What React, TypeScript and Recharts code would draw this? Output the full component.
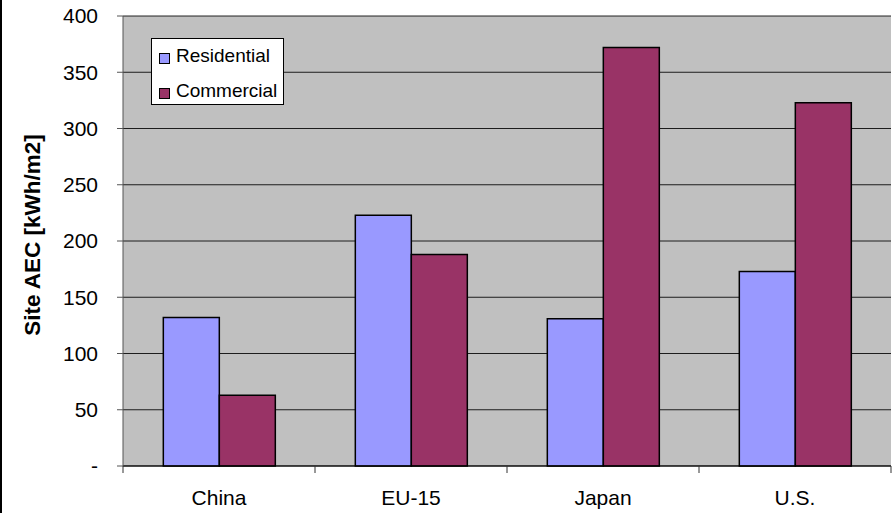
import React from "react";
import { BarChart, Bar, XAxis, YAxis, CartesianGrid } from "recharts";

// Site annual energy consumption by region and building type
const regions = ["China", "EU-15", "Japan", "U.S."];
const residential = [132, 223, 131, 173];
const commercial = [63, 188, 372, 323];
const yTicks = [0, 50, 100, 150, 200, 250, 300, 350, 400];

const data = regions.map((region, i) => ({
  region,
  Residential: residential[i],
  Commercial: commercial[i],
}));

const FONT = "'Liberation Sans', Arial, sans-serif";
const RES_COLOR = "#9999FF";
const COM_COLOR = "#993366";
const X_TICK_SIZE = 6;
const X_TICK_MARGIN = 18;

const legendItems = [
  { label: "Residential", color: RES_COLOR },
  { label: "Commercial", color: COM_COLOR },
];

// Category label plus tick marks on the category boundaries
function CategoryTick(props: any) {
  const { x, y, payload, index, visibleTicksCount } = props;
  const half = payload && payload.offset ? payload.offset : 0;
  const axisY = y - X_TICK_SIZE - X_TICK_MARGIN;
  const isLast = index === (visibleTicksCount ?? regions.length) - 1;
  return (
    <g>
      {half > 0 && (
        <line x1={x - half} x2={x - half} y1={axisY} y2={axisY + 7} stroke="#333" />
      )}
      {half > 0 && isLast && (
        <line x1={x + half} x2={x + half} y1={axisY} y2={axisY + 7} stroke="#333" />
      )}
      <text
        x={x}
        y={y}
        dy="0.71em"
        textAnchor="middle"
        fill="#000"
        fontSize={21}
        fontFamily={FONT}
      >
        {payload.value}
      </text>
    </g>
  );
}

function LegendBox() {
  return (
    <div
      style={{
        position: "absolute",
        left: 151,
        top: 38,
        width: 131,
        height: 65,
        background: "#fff",
        border: "1px solid #000",
        fontFamily: FONT,
        fontSize: 19,
        color: "#000",
      }}
    >
      {legendItems.map((it, i) => (
        <div
          key={it.label}
          style={{
            position: "absolute",
            left: 7,
            top: 6 + i * 35,
            display: "flex",
            alignItems: "center",
            height: 22,
            lineHeight: "22px",
            whiteSpace: "nowrap",
          }}
        >
          <span
            style={{
              display: "inline-block",
              width: 9,
              height: 9,
              background: it.color,
              border: "1px solid #000",
              marginRight: 6,
              marginTop: 4,
            }}
          />
          <span>{it.label}</span>
        </div>
      ))}
    </div>
  );
}

export default function App() {
  return (
    <div
      style={{
        position: "absolute",
        left: 0,
        top: 0,
        width: 896,
        height: 513,
        background: "#fff",
        overflow: "hidden",
      }}
    >
      <div
        style={{
          position: "absolute",
          left: 0,
          top: 0,
          width: 2,
          height: 513,
          background: "#000",
        }}
      />
      <BarChart
        width={896}
        height={513}
        data={data}
        margin={{ top: 16, right: 5, bottom: 0, left: 0 }}
        barCategoryGap="21%"
        barGap={0}
      >
        <CartesianGrid
          vertical={false}
          fill="#C0C0C0"
          stroke="#000"
          strokeOpacity={0.85}
        />
        <XAxis
          dataKey="region"
          height={47}
          axisLine={{ stroke: "#000" }}
          tickLine={false}
          tickSize={X_TICK_SIZE}
          tick={<CategoryTick />}
          tickMargin={X_TICK_MARGIN}
        />
        <YAxis
          width={123}
          domain={[0, 400]}
          ticks={yTicks}
          interval={0}
          tickFormatter={(v: number) => (v === 0 ? "-" : String(v))}
          axisLine={{ stroke: "#555" }}
          tickLine={{ stroke: "#555" }}
          tickSize={6}
          tickMargin={19}
          tick={{ fill: "#000", fontSize: 21, fontFamily: FONT }}
          label={{
            value: "Site AEC [kWh/m2]",
            angle: -90,
            position: "insideLeft",
            offset: 0,
            dx: 32,
            dy: -6,
            style: {
              fontFamily: FONT,
              fontWeight: "bold",
              fontSize: 22.5,
              fill: "#000",
              textAnchor: "middle",
            },
          }}
        />
        <YAxis
          yAxisId="edge"
          orientation="right"
          width={0}
          tick={false}
          tickLine={false}
          axisLine={{ stroke: "#808080", strokeWidth: 2 }}
        />
        <Bar
          dataKey="Residential"
          fill={RES_COLOR}
          stroke="#000"
          strokeWidth={1.5}
          isAnimationActive={false}
        />
        <Bar
          dataKey="Commercial"
          fill={COM_COLOR}
          stroke="#000"
          strokeWidth={1.5}
          isAnimationActive={false}
        />
      </BarChart>
      <LegendBox />
    </div>
  );
}
